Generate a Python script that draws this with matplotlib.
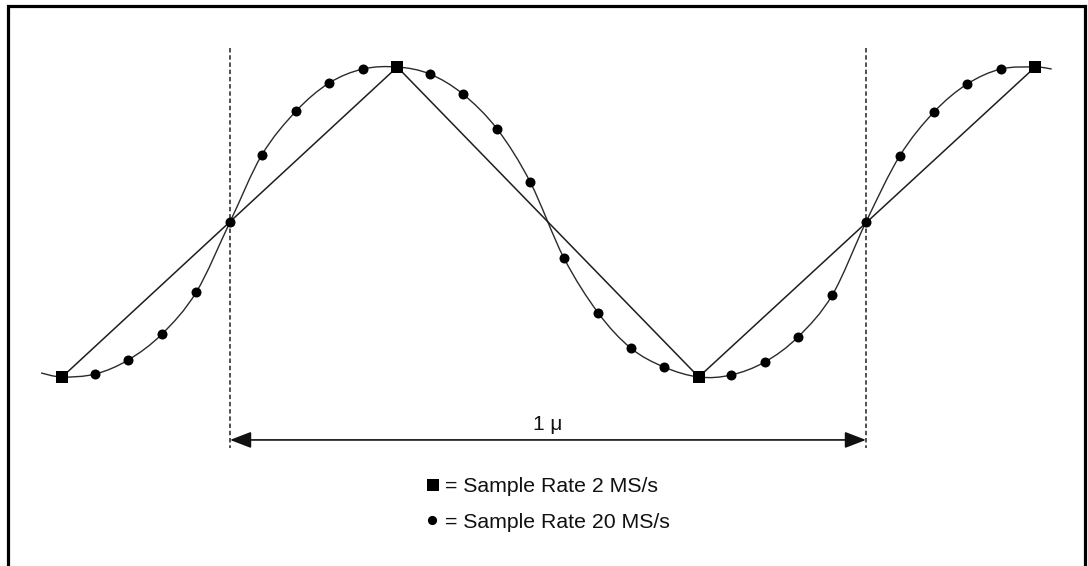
import numpy as np
import matplotlib
matplotlib.use("Agg")
import matplotlib.pyplot as plt
from matplotlib.path import Path
from matplotlib.patches import PathPatch, FancyArrowPatch, ArrowStyle
from matplotlib.lines import Line2D

plt.rcParams['font.family'] = ['Liberation Sans', 'DejaVu Sans']
plt.rcParams['lines.scale_dashes'] = False

# time in microseconds, value normalised to amplitude 1
sq_t = [-0.264, 0.263, 0.737, 1.266]          # 2 MS/s samples
sq_v = [-1.0, 1.0, -1.0, 1.0]

circ_t = [-0.212, -0.160, -0.107, -0.053, 0.000, 0.050, 0.104, 0.156, 0.209,
          0.314, 0.366, 0.420, 0.472, 0.525, 0.579, 0.630, 0.682,
          0.788, 0.841, 0.893, 0.947, 1.000, 1.053, 1.107, 1.159, 1.212]
circ_v = [-0.981, -0.890, -0.723, -0.452, 0.000, 0.432, 0.716, 0.897, 0.987,
          0.955, 0.826, 0.600, 0.258, -0.232, -0.587, -0.813, -0.935,
          -0.987, -0.903, -0.742, -0.471, 0.000, 0.426, 0.710, 0.890, 0.987]

# ends of the analog curve
end_t = [-0.297, 1.292]
end_v = [-0.974, 0.987]

period_marks = [0.0, 1.0]
period_label = "1 \u03bc"
legend_labels = ["= Sample Rate 2 MS/s", "= Sample Rate 20 MS/s"]

fig = plt.figure(figsize=(10.88, 5.66), dpi=100)
ax = fig.add_axes([0, 0, 1, 1])
ax.set_xlim(-230 / 636, 858 / 636)
ax.set_ylim((222 - 566) / 155, 222 / 155)
ax.axis('off')

# frame (open at bottom)
fig.add_artist(Line2D([8 / 1088, 8 / 1088, 1085 / 1088, 1085 / 1088],
                      [0, 1 - 6 / 566, 1 - 6 / 566, 0],
                      transform=fig.transFigure, color='black', lw=2.3,
                      solid_joinstyle='miter'))

# analog curve: smooth path through all points
pts = sorted(zip(list(circ_t) + list(sq_t) + end_t,
                 list(circ_v) + list(sq_v) + end_v))
P = np.array(pts)
n = len(P)
verts = [tuple(P[0])]
codes = [Path.MOVETO]
for i in range(n - 1):
    p0 = P[max(i - 1, 0)]
    p1 = P[i]
    p2 = P[i + 1]
    p3 = P[min(i + 2, n - 1)]
    c1 = p1 + (p2 - p0) / 6.0
    c2 = p2 - (p3 - p1) / 6.0
    verts += [tuple(c1), tuple(c2), tuple(p2)]
    codes += [Path.CURVE4] * 3
ax.add_patch(PathPatch(Path(verts, codes), facecolor='none',
                       edgecolor='#2a2a2a', lw=1.0))

# 2 MS/s reconstruction line
ax.plot(sq_t, sq_v, color='#1e1e1e', lw=1.1)

# samples
ax.plot(circ_t, circ_v, 'o', color='black', ms=7.2, mew=0, zorder=5)
ax.plot(sq_t, sq_v, 's', color='black', ms=8.4, mew=0, zorder=6)

# dashed period markers
for t in period_marks:
    ax.plot([t, t], [1.123, -1.458], color='#222222', lw=1.1,
            dashes=(3.2, 2.0))

# period arrow
arr = FancyArrowPatch((period_marks[0], -1.406), (period_marks[1], -1.406),
                      arrowstyle=ArrowStyle('<|-|>', head_length=13.0,
                                            head_width=5.0),
                      mutation_scale=1, shrinkA=0, shrinkB=0,
                      color='#111111', lw=1.2)
ax.add_patch(arr)
ax.text(0.5, -1.342, period_label, ha='center', va='baseline',
        fontsize=15, color='#111111')

# legend
ax.plot([0.319], [-1.697], 's', color='black', ms=8.0, mew=0)
ax.plot([0.318], [-1.923], 'o', color='black', ms=6.6, mew=0)
ax.text(0.338, -1.745, legend_labels[0], ha='left', va='baseline',
        fontsize=15.3, color='#111111')
ax.text(0.338, -1.971, legend_labels[1], ha='left', va='baseline',
        fontsize=15.3, color='#111111')

fig.savefig("out.png", dpi=100)
